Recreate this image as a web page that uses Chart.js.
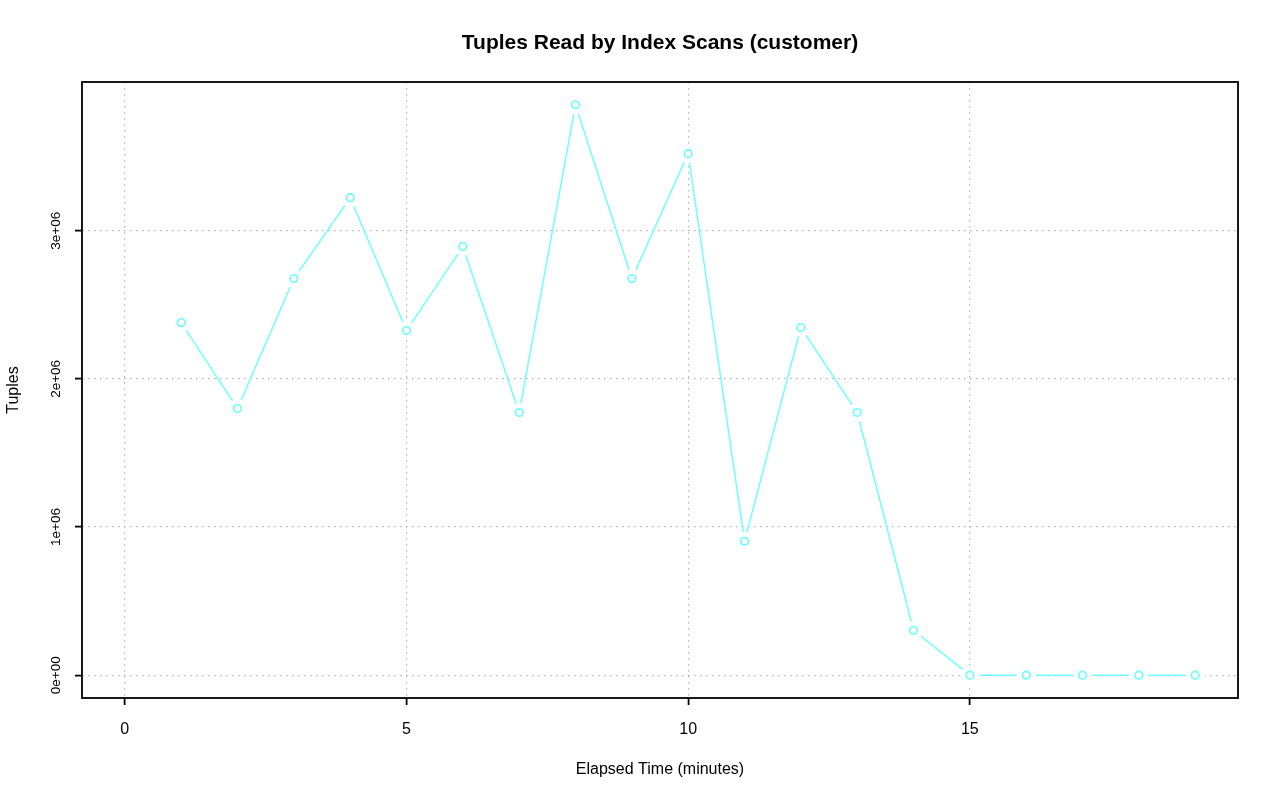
<!DOCTYPE html>
<html>
<head>
<meta charset="utf-8">
<script src="https://cdn.jsdelivr.net/npm/chart.js@4.4.0/dist/chart.umd.min.js"></script>
<style>
html,body{margin:0;padding:0;background:#fff;}
#wrap{width:1280px;height:801px;}
</style>
</head>
<body>
<div id="wrap"><canvas id="c" width="1280" height="801"></canvas></div>
<script>
const minutes = [1,2,3,4,5,6,7,8,9,10,11,12,13,14,15,16,17,18,19];
const tuples = [2380000,1800000,2677000,3223000,2326000,2893000,1773000,3850000,2677000,3520000,904000,2347000,1773000,303000,0,0,0,0,0];
const xTicks = [0,5,10,15];
const yTicks = [0,1000000,2000000,3000000];
const yTickLabels = ['0e+00','1e+06','2e+06','3e+06'];
const titleText = 'Tuples Read by Index Scans (customer)';
const xTitle = 'Elapsed Time (minutes)';
const yTitle = 'Tuples';

const pts = minutes.map((m,i)=>({x:m,y:tuples[i]}));
const FONT = '"Liberation Sans", Arial, sans-serif';

const textPlugin = {
  id:'rtext',
  afterDraw(chart){
    const ctx = chart.ctx, ca = chart.chartArea;
    const xs = chart.scales.x, ys = chart.scales.y;
    ctx.save();
    ctx.strokeStyle = '#000'; ctx.lineWidth = 1.8;
    ctx.strokeRect(ca.left, ca.top, ca.right-ca.left, ca.bottom-ca.top);
    ctx.fillStyle = '#000';
    ctx.font = 'bold 21px ' + FONT;
    ctx.textAlign = 'center'; ctx.textBaseline = 'middle';
    ctx.fillText(titleText, (ca.left+ca.right)/2, 43);
    ctx.font = '16px ' + FONT;
    xTicks.forEach(v=>{ ctx.fillText(String(v), xs.getPixelForValue(v), 730); });
    ctx.fillText(xTitle, (ca.left+ca.right)/2, 770);
    ctx.save();
    ctx.translate(14, (ca.top+ca.bottom)/2);
    ctx.rotate(-Math.PI/2);
    ctx.fillText(yTitle, 0, 0);
    ctx.restore();
    ctx.font = '13.5px ' + FONT;
    yTicks.forEach((v,i)=>{
      ctx.save();
      ctx.translate(56, ys.getPixelForValue(v));
      ctx.rotate(-Math.PI/2);
      ctx.fillText(yTickLabels[i], 0, 0);
      ctx.restore();
    });
    ctx.restore();
  }
};

new Chart(document.getElementById('c'), {
  type:'scatter',
  data:{datasets:[
    {data:pts, showLine:true, borderColor:'#70ffff', borderWidth:1.5, pointRadius:0, order:3},
    {data:pts, showLine:false, pointRadius:9.5, pointBackgroundColor:'#ffffff', pointBorderColor:'#ffffff', pointBorderWidth:0, order:2},
    {data:pts, showLine:false, pointRadius:3.8, pointBackgroundColor:'rgba(0,0,0,0)', pointBorderColor:'#66ffff', pointBorderWidth:1.6, order:1}
  ]},
  options:{
    responsive:false, animation:false,
    layout:{padding:{left:0,right:42,top:82,bottom:0}},
    plugins:{legend:{display:false}, tooltip:{enabled:false}},
    scales:{
      x:{type:'linear', min:-0.76, max:19.76, z:1,
        afterBuildTicks(s){ s.ticks = xTicks.map(v=>({value:v})); },
        afterFit(s){ s.height = 103; },
        ticks:{display:false},
        grid:{color:'#b4b4b4', lineWidth:1.2, drawTicks:true, tickLength:7, tickColor:'#000', tickWidth:1.8, tickBorderDash:[]},
        border:{display:false, dash:[1.5,4.5]}
      },
      y:{type:'linear', min:-154000, max:4004000, z:1,
        afterBuildTicks(s){ s.ticks = yTicks.map(v=>({value:v})); },
        afterFit(s){ s.width = 82; },
        ticks:{display:false},
        grid:{color:'#b4b4b4', lineWidth:1.2, drawTicks:true, tickLength:7, tickColor:'#000', tickWidth:1.8, tickBorderDash:[]},
        border:{display:false, dash:[1.5,4.5]}
      }
    }
  },
  plugins:[textPlugin]
});
</script>
</body>
</html>
